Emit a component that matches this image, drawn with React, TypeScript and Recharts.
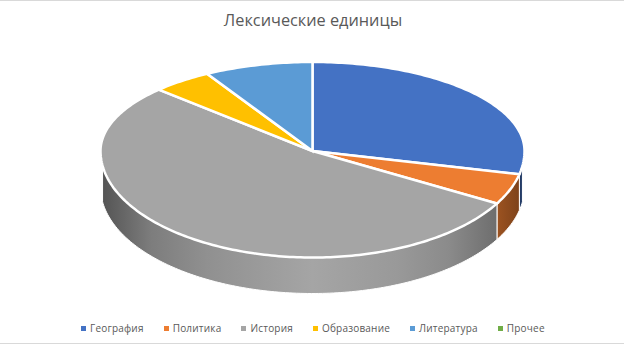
import React from "react";
import { PieChart, Pie, Legend } from "recharts";

const title = "Лексические единицы";
const categories = ["География", "Политика", "История", "Образование", "Литература", "Прочее"];
const shares = [28.5, 4.7, 53.9, 4.62, 8.28, 0];
const colors = ["#4472C4", "#ED7D31", "#A5A5A5", "#FFC000", "#5B9BD5", "#70AD47"];
const data = categories.map((name, i) => ({ name, value: shares[i], fill: colors[i] }));

const W = 624;
const H = 344;
const TOP_RATIO = 89 / 212;
const BOTTOM_RATIO = 106.5 / 212;
const DEPTH = 36;
const WALL_INSET = 8;
const FONT = "'Open Sans', sans-serif";
const wallStops: [number, number][] = [
  [0, 0.5],
  [0.12, 0.76],
  [0.25, 0.87],
  [0.5, 1],
  [0.7, 0.93],
  [0.82, 0.84],
  [0.93, 0.67],
  [1, 0.5],
];

function shade(hex: string, f: number) {
  const n = parseInt(hex.slice(1), 16);
  const c = [(n >> 16) & 255, (n >> 8) & 255, n & 255].map((v) => Math.round(v * f));
  return `rgb(${c[0]},${c[1]},${c[2]})`;
}

function Slice3D(props: any) {
  const { cx, cy, outerRadius, startAngle, endAngle, fill } = props;
  if (Math.abs(endAngle - startAngle) < 0.01) return null;
  const pt = (deg: number, dy = 0): [number, number] => {
    const r = (deg * Math.PI) / 180;
    const s = -Math.sin(r);
    const ratio = s < 0 ? TOP_RATIO : BOTTOM_RATIO;
    return [cx + outerRadius * Math.cos(r), cy + outerRadius * ratio * s + dy];
  };
  const arc = (a: number, b: number, dy = 0) => {
    const out: string[] = [];
    const n = Math.max(2, Math.ceil(Math.abs(b - a)));
    for (let i = 0; i <= n; i++) {
      const p = pt(a + ((b - a) * i) / n, dy);
      out.push(`${p[0].toFixed(2)} ${p[1].toFixed(2)}`);
    }
    return out;
  };
  const wallA = Math.min(startAngle, -WALL_INSET);
  const wallB = Math.max(endAngle, -180 + WALL_INSET);
  const hasWall = wallA > wallB;
  const gid = `wall-${String(fill).slice(1)}`;
  const topPath = `M${cx} ${cy}L${arc(startAngle, endAngle).join("L")}Z`;
  const wallPath = hasWall
    ? `M${arc(wallA, wallB).join("L")}L${arc(wallB, wallA, DEPTH).join("L")}Z`
    : "";
  return (
    <g>
      {hasWall && (
        <>
          <defs>
            <linearGradient id={gid} gradientUnits="userSpaceOnUse" x1={cx - outerRadius} x2={cx + outerRadius} y1={0} y2={0}>
              {wallStops.map(([o, f]) => (
                <stop key={o} offset={o} stopColor={shade(fill, f)} />
              ))}
            </linearGradient>
          </defs>
          <path d={wallPath} fill={`url(#${gid})`} stroke="#fff" strokeWidth={1} />
        </>
      )}
      <path d={topPath} fill={fill} stroke="#fff" strokeWidth={2.5} strokeLinejoin="miter" />
    </g>
  );
}

function LegendRow({ payload }: any) {
  return (
    <div style={{ display: "flex", gap: 20, fontFamily: FONT, fontSize: 10, letterSpacing: 0.2, color: "#595959", lineHeight: "14px" }}>
      {(payload || []).map((p: any) => (
        <div key={p.value} style={{ display: "flex", alignItems: "center", gap: 4 }}>
          <span style={{ width: 5, height: 5, background: p.color, display: "inline-block" }} />
          <span>{p.value}</span>
        </div>
      ))}
    </div>
  );
}

export default function App() {
  return (
    <div style={{ position: "absolute", left: 0, top: 0, width: W, height: H, background: "#fff", overflow: "hidden" }}>
      <div style={{ position: "absolute", left: 0, top: 0, width: W, height: 1, background: "#d9d9d9" }} />
      <div style={{ position: "absolute", left: 0, top: H - 1, width: W, height: 1, background: "#d9d9d9" }} />
      <div style={{ position: "absolute", left: 0, top: 9, width: W + 2, textAlign: "center", fontFamily: FONT, fontSize: 16.3, color: "#595959", lineHeight: "22px" }}>
        {title}
      </div>
      <PieChart width={W} height={H} margin={{ top: 0, right: 0, bottom: 0, left: 0 }}>
        <Pie
          data={data}
          dataKey="value"
          nameKey="name"
          cx={312.5}
          cy={151}
          outerRadius={212}
          innerRadius={0}
          startAngle={90}
          endAngle={-270}
          paddingAngle={0}
          isAnimationActive={false}
          labelLine={false}
          shape={Slice3D}
        />
        <Legend
          content={<LegendRow />}
          verticalAlign="bottom"
          align="left"
          itemSorter={null}
          wrapperStyle={{ position: "absolute", left: 81, top: 321, bottom: "auto", width: "auto" }}
        />
      </PieChart>
    </div>
  );
}
